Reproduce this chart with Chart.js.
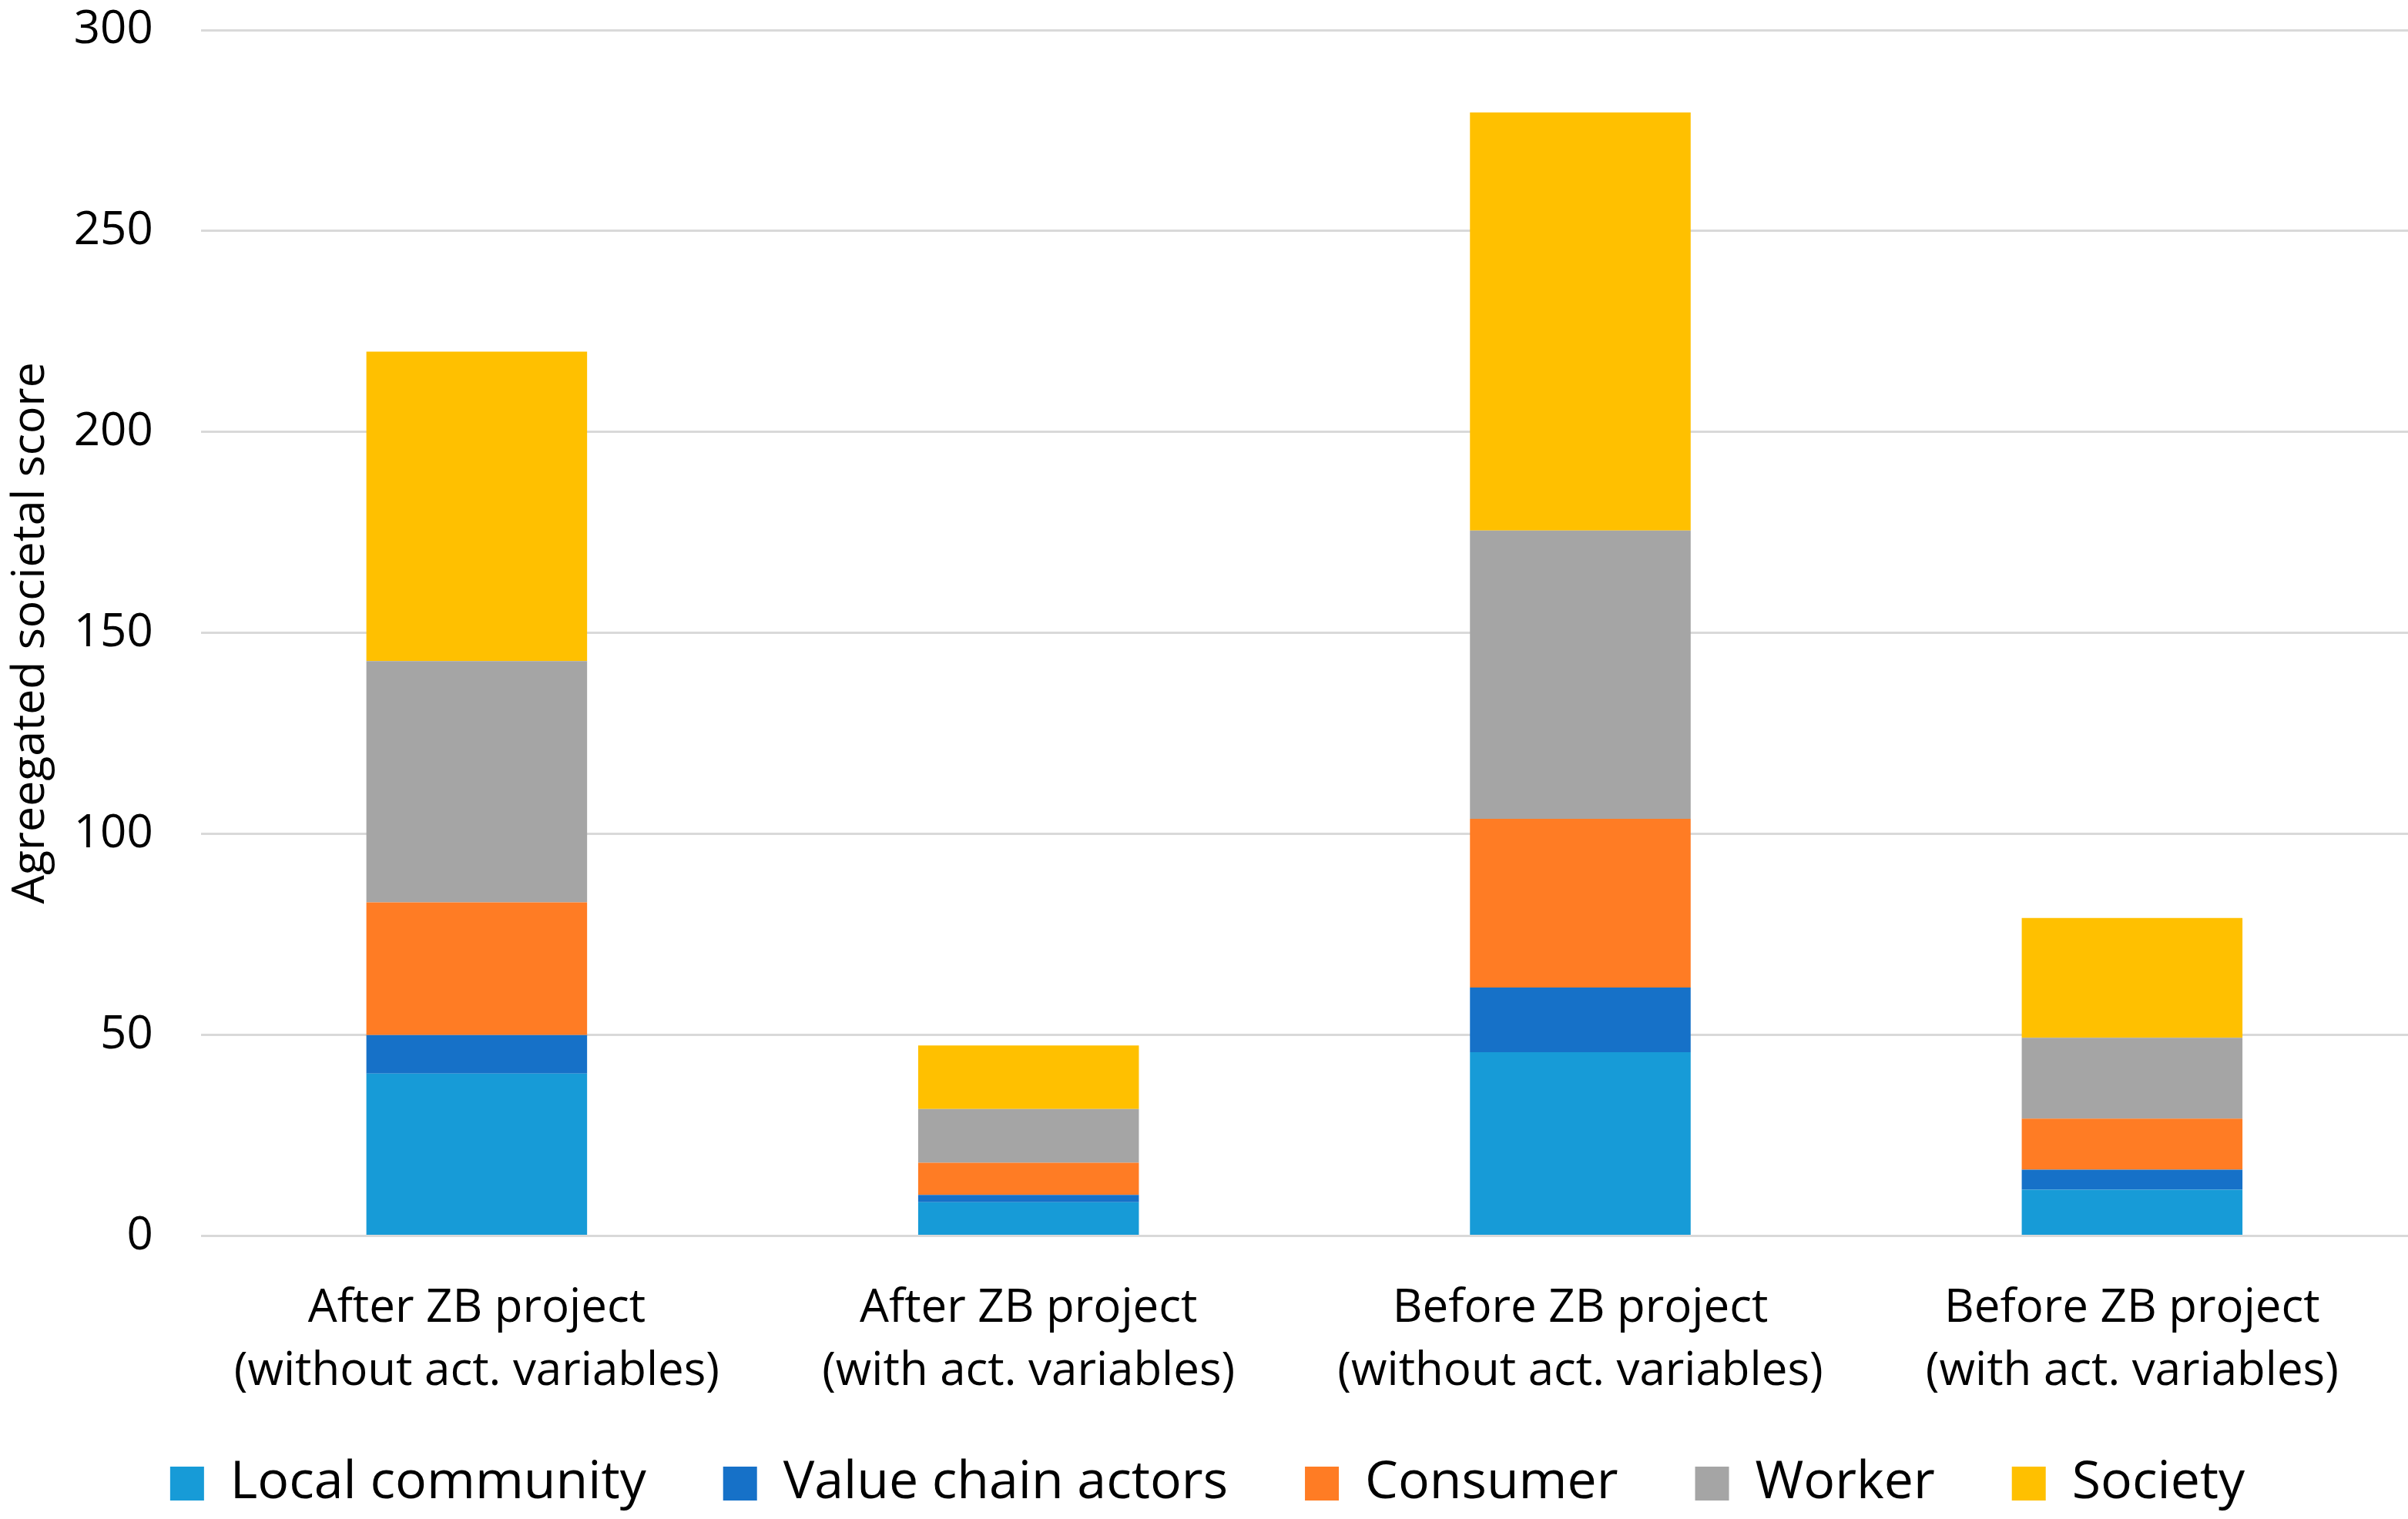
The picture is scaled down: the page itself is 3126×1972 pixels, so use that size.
<!DOCTYPE html>
<html>
<head>
<meta charset="utf-8">
<script src="https://cdn.jsdelivr.net/npm/chart.js@4/dist/chart.umd.min.js"></script>
<style>
    html, body { margin: 0; padding: 0; background: #fff; }
    #wrap { width: 3126px; height: 1972px; }
</style>
</head>
<body>
<div id="wrap"><canvas id="societalChart"></canvas></div>
<script>
// Categories (two-line labels)
const categories = [
    ['After ZB project', '(without act. variables)'],
    ['After ZB project', '(with act. variables)'],
    ['Before ZB project', '(without act. variables)'],
    ['Before ZB project', '(with act. variables)']
];

// Stacked series values
const localCommunity = [40.4, 8.4, 45.7, 11.5];
const valueChainActors = [9.6, 1.8, 16.1, 5.0];
const consumer = [33.0, 8.0, 42.0, 12.7];
const worker = [60.0, 13.4, 71.7, 20.1];
const society = [77.0, 15.8, 104.0, 29.8];

const yTicks = [0, 50, 100, 150, 200, 250, 300];

const fontFamily = "'Open Sans', 'Noto Sans', sans-serif";

// The legend needs wide gaps between items but sits close under the axis labels,
// so move it up a little after layout.
const legendLift = {
    id: 'legendLift',
    afterLayout(chart) {
        const lg = chart.legend;
        if (lg) {
            lg.top -= 83;
            lg.bottom -= 83;
        }
    }
};

document.addEventListener('DOMContentLoaded', function() {
    const ctx = document.getElementById('societalChart');

    const series = [
        { label: 'Local community', data: localCommunity, color: '#179bd7' },
        { label: 'Value chain actors', data: valueChainActors, color: '#1671c8' },
        { label: 'Consumer', data: consumer, color: '#ff7c24' },
        { label: 'Worker', data: worker, color: '#a5a5a5' },
        { label: 'Society', data: society, color: '#ffc000' }
    ];

    new Chart(ctx, {
        type: 'bar',
        data: {
            labels: categories,
            datasets: series.map(s => ({
                label: s.label,
                data: s.data,
                backgroundColor: s.color,
                borderWidth: 0,
                categoryPercentage: 1.0,
                barPercentage: 0.4
            }))
        },
        plugins: [legendLift],
        options: {
            responsive: true,
            maintainAspectRatio: false,
            animation: false,
            layout: {
                padding: { top: 39, right: -4, bottom: -81, left: 5 }
            },
            plugins: {
                tooltip: { enabled: false },
                legend: {
                    position: 'bottom',
                    labels: {
                        boxWidth: 44,
                        boxHeight: 44,
                        padding: 100,
                        color: '#000',
                        font: { family: fontFamily, size: 68 }
                    }
                }
            },
            scales: {
                x: {
                    stacked: true,
                    grid: { display: false, drawTicks: false },
                    border: { display: false },
                    ticks: {
                        color: '#000',
                        padding: 53,
                        maxRotation: 0,
                        autoSkip: false,
                        font: { family: fontFamily, size: 60, lineHeight: 1.37 }
                    }
                },
                y: {
                    stacked: true,
                    min: 0,
                    max: 300,
                    afterBuildTicks: axis => {
                        axis.ticks = yTicks.map(v => ({ value: v }));
                    },
                    grid: {
                        color: '#d9d9d9',
                        lineWidth: 3,
                        drawTicks: true,
                        tickLength: 62,
                        tickColor: 'rgba(0,0,0,0)'
                    },
                    border: { display: false },
                    ticks: {
                        color: '#000',
                        padding: 0,
                        font: { family: fontFamily, size: 60 }
                    },
                    title: {
                        display: true,
                        text: 'Agreegated societal score',
                        color: '#000',
                        padding: { top: 0, bottom: 20 },
                        font: { family: fontFamily, size: 59 }
                    }
                }
            }
        }
    });
});
</script>
</body>
</html>
